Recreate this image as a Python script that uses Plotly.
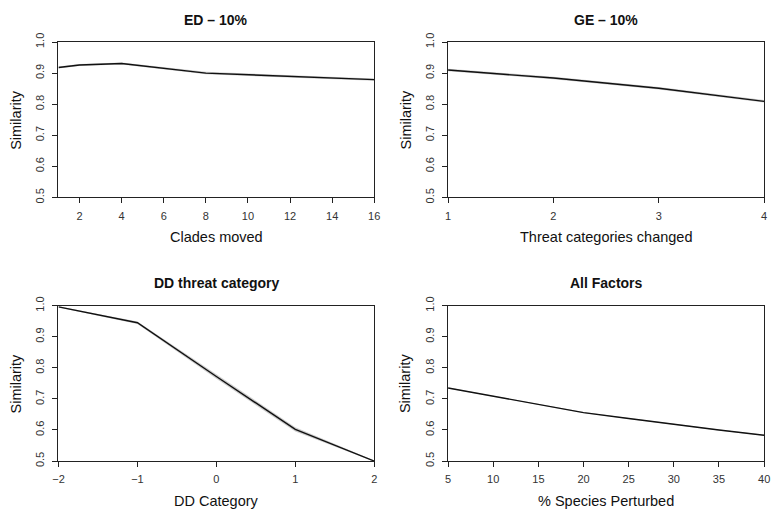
import plotly.graph_objects as go

W, H = 779, 519

# ---- data ----
ed_x = [1, 2, 4, 8, 16]
ed_y = [0.918, 0.926, 0.931, 0.900, 0.879]
ed_band = [0.003, 0.003, 0.003, 0.004, 0.004]

ge_x = [1, 2, 3, 4]
ge_y = [0.910, 0.884, 0.851, 0.809]
ge_band = [0.004, 0.004, 0.004, 0.004]

dd_x = [-2, -1, 0, 1, 2]
dd_y = [0.996, 0.945, 0.772, 0.602, 0.500]
dd_band = [0.002, 0.004, 0.007, 0.007, 0.002]

all_x = [5, 10, 15, 20, 25, 30, 35, 40]
all_y = [0.735, 0.708, 0.682, 0.656, 0.637, 0.618, 0.600, 0.583]
all_band = [0.0015, 0.0015, 0.0015, 0.0015, 0.0015, 0.0015, 0.0015, 0.0015]

titles = ["ED \u2013 10%", "GE \u2013 10%", "DD threat category", "All Factors"]
xtitles = ["Clades moved", "Threat categories changed", "DD Category", "% Species Perturbed"]
ytitle = "Similarity"
y_ticks = [0.5, 0.6, 0.7, 0.8, 0.9, 1.0]
x_ticks = [[2, 4, 6, 8, 10, 12, 14, 16], [1, 2, 3, 4], [-2, -1, 0, 1, 2],
           [5, 10, 15, 20, 25, 30, 35, 40]]
x_ranges = [[1, 16], [1, 4], [-2, 2], [5, 40]]

panels = [(ed_x, ed_y, ed_band), (ge_x, ge_y, ge_band),
          (dd_x, dd_y, dd_band), (all_x, all_y, all_band)]

# ---- layout geometry (pixels) ----
boxes = [  # left, right, top, bottom
    (53.3, 374.0, 34.0, 194.0),
    (449.0, 770.0, 34.0, 194.0),
    (53.3, 374.0, 305.5, 465.5),
    (449.0, 770.0, 305.5, 465.5),
]

FONT = "Liberation Sans, Arial, Helvetica, sans-serif"
fig = go.Figure()
annotations = []

for i, ((xs, ys, band), (l, r, t, b)) in enumerate(zip(panels, boxes)):
    ax = "" if i == 0 else str(i + 1)
    xa, ya = "x" + ax, "y" + ax
    upper = [y + d for y, d in zip(ys, band)]
    lower = [y - d for y, d in zip(ys, band)]
    fig.add_trace(go.Scatter(x=xs, y=upper, mode="lines", line=dict(width=0, color="rgba(0,0,0,0)"),
                             xaxis=xa, yaxis=ya, showlegend=False, hoverinfo="skip"))
    fig.add_trace(go.Scatter(x=xs, y=lower, mode="lines", line=dict(width=0, color="rgba(0,0,0,0)"),
                             fill="tonexty", fillcolor="rgba(200,200,200,0.9)",
                             xaxis=xa, yaxis=ya, showlegend=False, hoverinfo="skip"))
    fig.add_trace(go.Scatter(x=xs, y=ys, mode="lines", line=dict(width=1.4, color="#111111"),
                             xaxis=xa, yaxis=ya, showlegend=False))

    xdom = [l / W, r / W]
    ydom = [1 - b / H, 1 - t / H]
    common = dict(showline=True, linecolor="#222222", linewidth=1, mirror=True,
                  showgrid=False, zeroline=False, ticks="outside", ticklen=5,
                  tickcolor="#222222", tickwidth=1,
                  tickfont=dict(family=FONT, size=11, color="#333333"))
    fig.update_layout(**{
        ("xaxis" + ax): dict(domain=xdom, range=x_ranges[i], tickmode="array",
                             tickvals=x_ticks[i], anchor=ya, ticklabelstandoff=3, **common),
        ("yaxis" + ax): dict(domain=ydom, range=[0.5, 1.0], tickmode="array",
                             tickvals=y_ticks, ticktext=["%.1f" % v for v in y_ticks],
                             tickangle=-90, anchor=xa, ticklabelstandoff=4, **common),
    })
    cx = (l + r) / 2 / W
    annotations.append(dict(text="<b>%s</b>" % titles[i], x=cx, y=1 - (t - 23) / H,
                            xref="paper", yref="paper", showarrow=False,
                            xanchor="center", yanchor="middle",
                            font=dict(family=FONT, size=14, color="#111111")))
    annotations.append(dict(text=xtitles[i], x=cx, y=1 - (b + 41) / H,
                            xref="paper", yref="paper", showarrow=False,
                            xanchor="center", yanchor="middle",
                            font=dict(family=FONT, size=14.5, color="#111111")))
    annotations.append(dict(text=ytitle, x=(l - 43) / W, y=1 - (t + b) / 2 / H,
                            xref="paper", yref="paper", showarrow=False, textangle=-90,
                            xanchor="center", yanchor="middle",
                            font=dict(family=FONT, size=14.5, color="#111111")))

fig.update_layout(width=W, height=H, margin=dict(l=0, r=0, t=0, b=0),
                  paper_bgcolor="white", plot_bgcolor="white",
                  annotations=annotations, showlegend=False)

fig.write_html("out.html", config={"displayModeBar": False},
               post_script="document.body.style.margin='0';document.body.style.padding='0';")
